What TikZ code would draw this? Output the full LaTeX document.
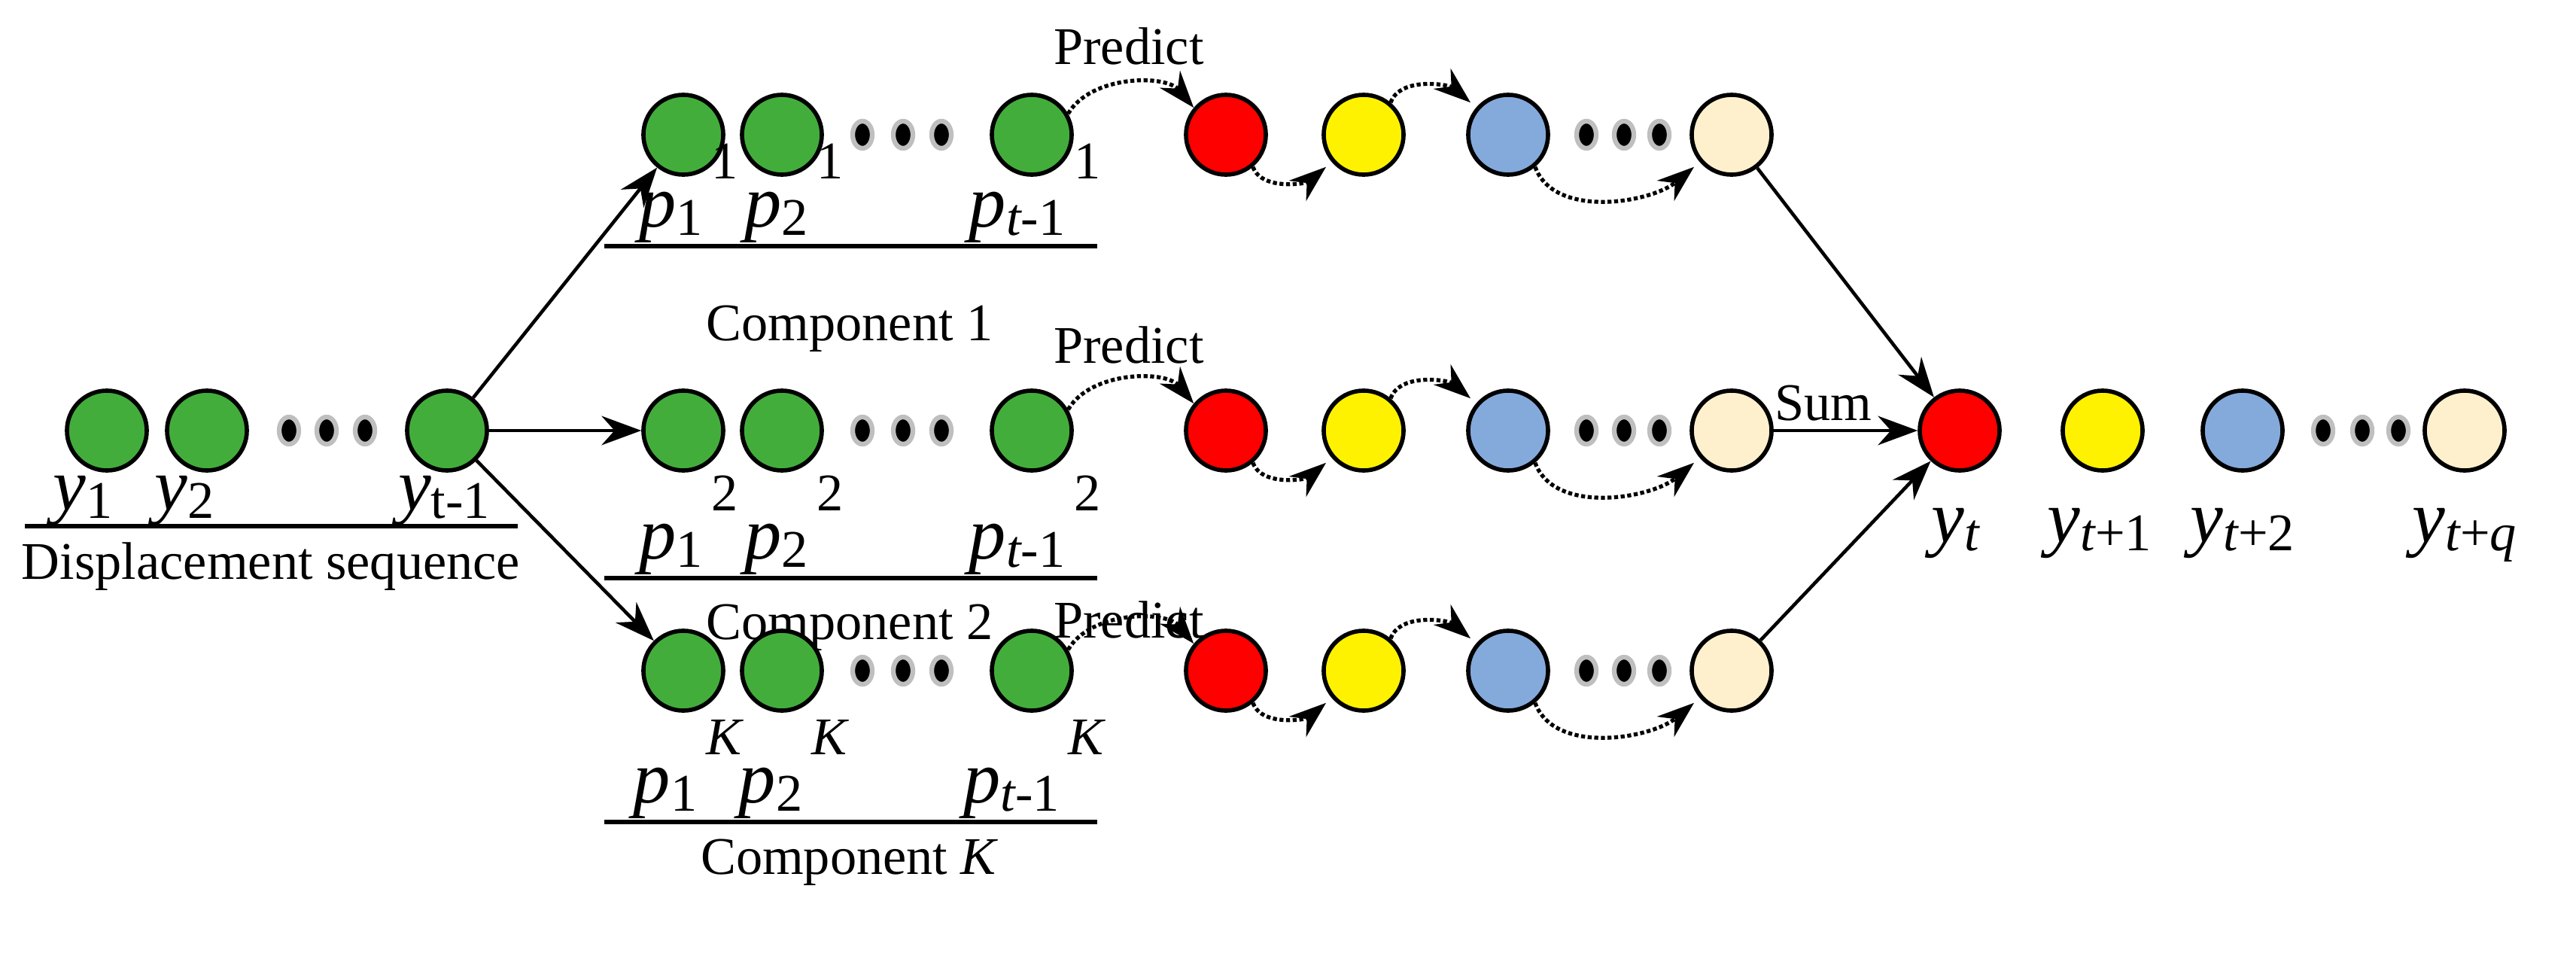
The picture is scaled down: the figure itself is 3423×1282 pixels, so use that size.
\documentclass[tikz,border=0pt]{standalone}
\usepackage{fontspec}
\setmainfont{Liberation Serif}
\usetikzlibrary{shapes.geometric,arrows.meta}
\definecolor{cgreen}{RGB}{67,173,60}
\definecolor{cblue}{RGB}{132,170,220}
\definecolor{ccream}{RGB}{255,240,205}
\tikzset{
 ball/.style={circle,draw,line width=1.6pt,minimum size=1.06cm,inner sep=0pt},
 dot/.style={ellipse,fill=black,draw=black!25,line width=1.8pt,minimum width=0.26cm,minimum height=0.36cm,inner sep=0pt},
 lab/.style={font=\fontsize{20}{22}\selectfont},
 var/.style={font=\fontsize{28}{30}\selectfont\itshape,anchor=base},
 flow/.style={-{Stealth[length=15pt,width=11pt]},line width=1.3pt},
 pred/.style={-{Stealth[length=14pt,width=10pt]},line width=1.5pt,densely dotted},
}
\newcommand{\sml}{\fontsize{20}{22}\selectfont}
\newcommand{\plab}[2]{p\raisebox{-0.25ex}{\upshape\sml #1}\hspace{0.12em}\raisebox{1.4ex}{\sml #2}}
\begin{document}
\begin{tikzpicture}[x=0.01cm,y=-0.01cm]
 \useasboundingbox (0,0) rectangle (3423,1282);
 % displacement sequence
 \node[ball,fill=cgreen] (y1) at (142,572) {};
 \node[ball,fill=cgreen] (y2) at (275,572) {};
 \foreach \x in {384,434,485} \node[dot] at (\x,572) {};
 \node[ball,fill=cgreen] (yt) at (594,572) {};
 \node[var] at (110,677) {y\raisebox{-0.25ex}{\upshape\sml 1}};
 \node[var] at (245,677) {y\raisebox{-0.25ex}{\upshape\sml 2}};
 \node[var] at (590,677) {y\raisebox{-0.25ex}{\upshape\sml t-1}};
 \draw[line width=1.6pt] (33,699) -- (688,699);
 \node[lab] at (360,753) {Displacement sequence};
 % components
 \foreach \k/\y/\s/\ly/\cy/\cn/\py in {1/179/1/327/437/1/61, 2/572/2/768/834/2/458, 3/891/\textit{K}/1092/1146/\textit{K}/823}{
  \node[ball,fill=cgreen] (p1\k) at (908,\y) {};
  \node[ball,fill=cgreen] (p2\k) at (1039,\y) {};
  \foreach \x in {1146,1200,1251} \node[dot] at (\x,\y) {};
  \node[ball,fill=cgreen] (pt\k) at (1371,\y) {};
  \node[ball,fill=red] (r\k) at (1629,\y) {};
  \node[ball,fill=yellow] (g\k) at (1812,\y) {};
  \node[ball,fill=cblue] (b\k) at (2004,\y) {};
  \foreach \x in {2108,2158,2205} \node[dot] at (\x,\y) {};
  \node[ball,fill=ccream] (c\k) at (2301,\y) {};
  \node[var] at (915,\ly-26) {\plab{1}{\upshape\s}};
  \node[var] at (1055,\ly-26) {\plab{2}{\upshape\s}};
  \node[var] at (1375,\ly-26) {p\raisebox{-0.25ex}{\sml t\upshape -1}\hspace{0.12em}\raisebox{1.4ex}{\sml\upshape \s}};
  \draw[line width=1.6pt] (803,\ly) -- (1458,\ly);
  \node[lab] at (1129,\cy) {Component \cn};
  \node[lab] at (1500,\py) {Predict};
  \draw[pred] (pt\k.30) to[out=60,in=130,looseness=0.9] (r\k.140);
  \draw[pred] (r\k.-50) to[out=-70,in=-140,looseness=0.9] ([xshift=-4pt]g\k.-130);
  \draw[pred] (g\k.50) to[out=70,in=140,looseness=0.9] ([xshift=-4pt]b\k.130);
  \draw[pred] (b\k.-50) to[out=-70,in=-140,looseness=0.9] ([xshift=-4pt]c\k.-130);
  \draw[flow] (yt) -- (p1\k);
 }
 % result
 \node[ball,fill=red] (rt) at (2604,572) {};
 \node[ball,fill=yellow] (gt) at (2794,572) {};
 \node[ball,fill=cblue] (bt) at (2980,572) {};
 \foreach \x in {3087,3139,3187} \node[dot] at (\x,572) {};
 \node[ball,fill=ccream] (ct) at (3275,572) {};
 \foreach \k in {1,2,3} \draw[flow] (c\k) -- (rt);
 \node[lab,above] at (2423,572) {Sum};
 \node[var] at (2598,720) {y\raisebox{-0.25ex}{\sml t}};
 \node[var] at (2790,720) {y\raisebox{-0.25ex}{\sml t\upshape +1}};
 \node[var] at (2980,720) {y\raisebox{-0.25ex}{\sml t\upshape +2}};
 \node[var] at (3275,720) {y\raisebox{-0.25ex}{\sml t\upshape +\itshape q}};
\end{tikzpicture}
\end{document}
